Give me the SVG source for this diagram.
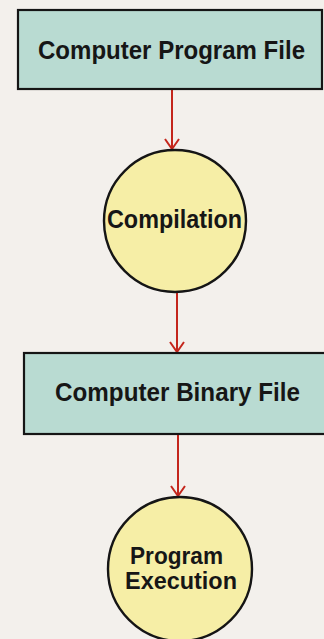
<svg xmlns="http://www.w3.org/2000/svg" width="324" height="639" viewBox="0 0 324 639">
  <style>
    .box { fill: #b9dbd2; stroke: #151515; stroke-width: 2.2; }
    .oval { fill: #f6eea6; stroke: #151515; stroke-width: 2.4; }
    .lbl { font-family: "Liberation Sans", Arial, sans-serif; font-size: 25px; font-weight: bold; fill: #161616; }
    .small { font-size: 23px; }
    .flow { stroke: #c4261c; stroke-width: 2; fill: none; }
    .head { stroke: #c4261c; stroke-width: 2; fill: none; stroke-linejoin: miter; }
  </style>
  <rect width="324" height="639" fill="#f3f0ec"/>

  <g id="connectors">
    <line class="flow" x1="172" y1="89" x2="172" y2="149"/>
    <path class="head" d="M165 139 L172 149 L179 139"/>
    <line class="flow" x1="177" y1="292" x2="177" y2="352"/>
    <path class="head" d="M170 342 L177 352 L184 342"/>
    <line class="flow" x1="178" y1="434" x2="178" y2="496"/>
    <path class="head" d="M171 486 L178 496 L185 486"/>
  </g>

  <g id="program-file">
    <rect class="box" x="18" y="10" width="304" height="79"/>
    <text class="lbl" x="38" y="59" textLength="267" lengthAdjust="spacingAndGlyphs">Computer Program File</text>
  </g>

  <g id="compilation">
    <circle class="oval" cx="175" cy="221" r="71"/>
    <text class="lbl" x="107" y="228" textLength="135" lengthAdjust="spacingAndGlyphs">Compilation</text>
  </g>

  <g id="binary-file">
    <rect class="box" x="24" y="353" width="305" height="81"/>
    <text class="lbl" x="55" y="401" textLength="245" lengthAdjust="spacingAndGlyphs">Computer Binary File</text>
  </g>

  <g id="execution">
    <circle class="oval" cx="180" cy="569" r="72"/>
    <text class="lbl small" x="130" y="564" textLength="93" lengthAdjust="spacingAndGlyphs">Program</text>
    <text class="lbl small" x="125" y="589" textLength="112" lengthAdjust="spacingAndGlyphs">Execution</text>
  </g>
</svg>
